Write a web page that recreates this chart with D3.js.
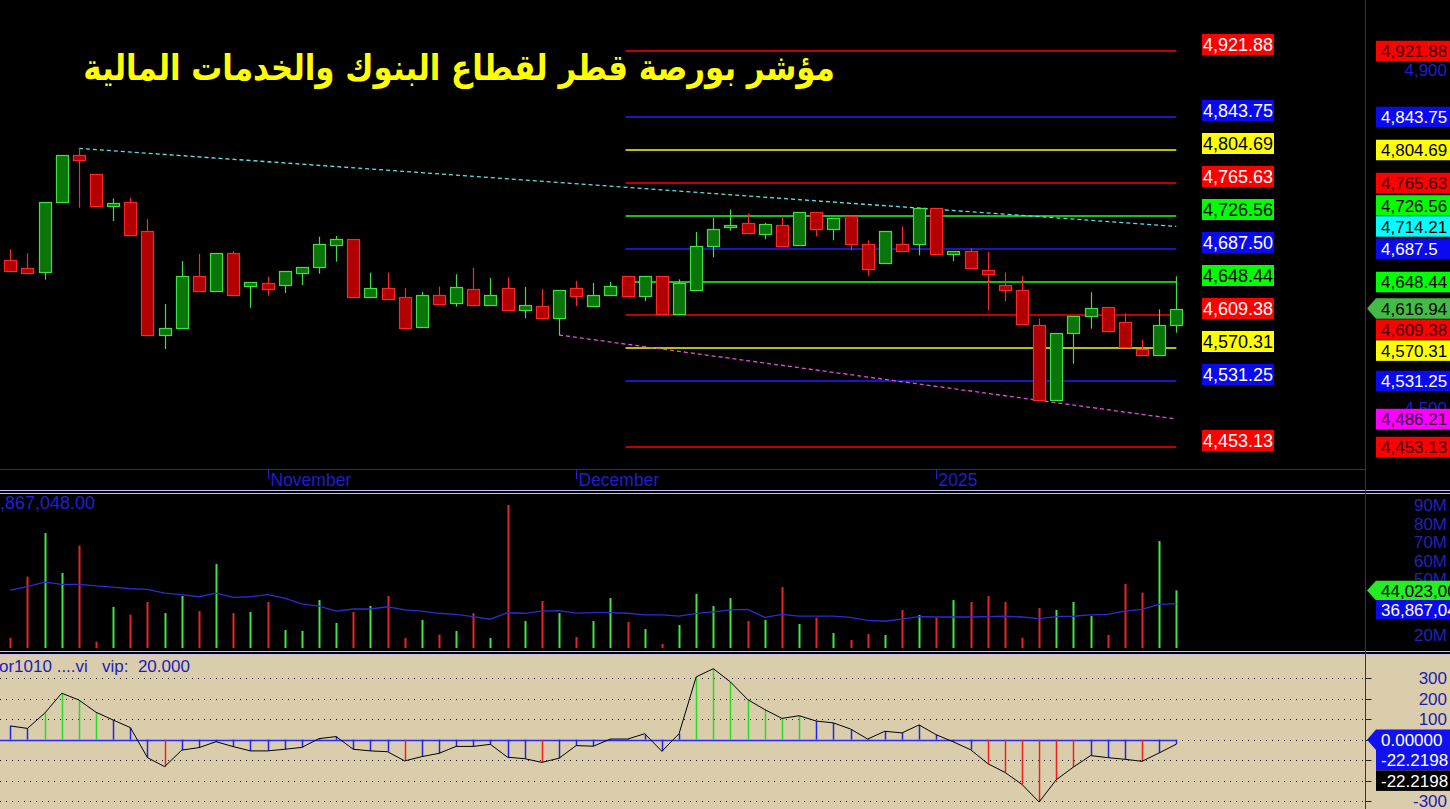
<!DOCTYPE html>
<html><head><meta charset="utf-8">
<script src="https://cdn.jsdelivr.net/npm/d3@7/dist/d3.min.js"></script>
<style>html,body{margin:0;padding:0;background:#000;overflow:hidden}svg{display:block}text{font-family:"Liberation Sans",Arial,sans-serif}</style>
</head><body>
<svg id="c" width="1450" height="809"></svg>
<script>
// ---------------- DATA ----------------
const titleText = "مؤشر بورصة قطر لقطاع البنوك والخدمات المالية";
const openV  = [4674.1,4665.0,4660.6,4742.8,4798.8,4776.3,4738.8,4743.1,4708.8,4585.4,4593.6,4655.6,4637.4,4682.8,4643.4,4646.9,4644.5,4658.7,4665.8,4691.9,4699.3,4630.3,4641.0,4630.7,4594.8,4632.7,4623.2,4639.8,4620.9,4641.0,4614.9,4619.7,4605.5,4641.0,4619.7,4632.7,4655.2,4631.5,4655.2,4610.9,4638.6,4690.7,4713.2,4717.9,4704.9,4715.6,4691.9,4731.0,4710.8,4726.2,4693.1,4670.6,4693.1,4693.1,4735.7,4681.2,4684.8,4662.3,4644.5,4638.6,4597.2,4508.4,4587.7,4607.8,4618.5,4600.7,4568.8,4561.7,4597.2];
const highV  = [4687.2,4682.4,4743.1,4798.8,4806.7,4776.3,4747.5,4748.2,4722.7,4622.4,4673.3,4681.9,4682.4,4685.1,4648.1,4654.7,4661.1,4666.2,4702.1,4702.9,4699.3,4659.5,4659.5,4641.3,4636.6,4642.9,4657.6,4665.4,4653.2,4654.0,4642.5,4640.2,4638.6,4649.6,4647.3,4648.4,4655.2,4655.2,4655.2,4651.6,4707.6,4724.6,4734.0,4729.3,4718.6,4725.7,4731.0,4731.0,4723.9,4726.2,4697.8,4708.5,4714.4,4735.7,4735.7,4684.8,4688.3,4684.0,4659.9,4655.2,4605.5,4587.7,4607.8,4636.3,4618.5,4611.4,4579.8,4616.1,4655.2];
const lowV   = [4660.6,4659.1,4651.2,4742.8,4736.4,4738.8,4720.7,4703.7,4586.1,4569.1,4593.6,4637.4,4637.4,4632.7,4618.0,4632.2,4635.4,4644.9,4658.3,4672.5,4630.3,4630.3,4628.0,4593.6,4594.8,4622.0,4619.2,4620.9,4620.9,4614.9,4605.5,4605.5,4585.7,4619.7,4619.7,4632.7,4631.5,4625.6,4610.9,4610.9,4638.6,4677.7,4709.2,4706.1,4699.0,4690.7,4691.9,4702.5,4697.8,4686.0,4655.9,4670.6,4684.8,4680.0,4681.2,4673.0,4664.7,4614.9,4625.6,4598.4,4508.4,4508.4,4551.7,4593.2,4590.1,4571.2,4561.7,4561.7,4588.4];
const closeV = [4661.8,4659.5,4743.1,4798.8,4793.2,4738.8,4742.0,4703.7,4586.1,4593.6,4655.6,4637.4,4682.4,4632.7,4648.1,4639.8,4661.1,4666.2,4693.4,4699.3,4630.3,4641.0,4628.0,4593.6,4632.7,4622.0,4642.2,4620.9,4632.7,4614.9,4620.9,4605.5,4638.6,4631.5,4632.7,4643.4,4631.5,4655.2,4610.9,4646.9,4690.7,4710.8,4715.6,4706.1,4716.7,4690.7,4731.0,4710.8,4723.9,4693.1,4663.5,4708.5,4684.8,4735.7,4681.2,4684.8,4664.7,4657.6,4638.6,4598.4,4508.4,4587.7,4607.8,4617.3,4590.1,4571.2,4561.7,4597.2,4616.94];
// volume in millions, and its moving average
const volumeM = [18.5,51.4,74.9,53.4,68.1,16.4,35.1,30.9,37.8,31.8,41.0,32.9,58.2,31.8,32.4,37.8,22.7,22.2,38.8,26.5,32.4,35.6,41.0,18.4,28.1,20.2,22.2,31.8,18.4,90.0,27.5,38.3,31.8,18.9,27.5,39.9,27.0,23.2,15.2,25.4,42.1,35.6,39.9,27.5,28.1,45.8,25.9,29.2,21.1,17.3,20.5,20.0,33.5,30.8,29.2,38.8,37.8,41.0,37.8,18.4,34.5,33.5,37.8,30.2,20.0,47.5,42.8,70.6,44.023];
const volumeMaM = [44.2,46.0,48.5,47.3,47.3,46.4,45.8,44.9,44.6,42.5,41.7,40.6,42.5,40.3,40.6,41.7,39.9,36.7,35.6,32.9,34.0,34.0,35.2,33.5,32.9,31.7,31.1,29.9,28.5,32.0,31.7,32.9,33.1,31.8,32.0,32.0,31.7,30.8,30.8,30.2,31.7,32.5,33.5,33.8,29.5,31.1,30.2,30.2,30.2,29.5,27.9,27.4,28.5,29.9,29.7,29.7,29.7,29.9,30.1,29.7,28.8,29.9,30.1,30.8,31.1,32.9,33.8,36.5,36.867048];
const oscV = [67,55,129,227,194,134,96,59,-88,-132,-51,-39,-10,-34,-55,-55,-47,-38,5,15,-47,-55,-59,-104,-83,-67,-33,-33,-23,-86,-93,-111,-91,-29,-32,3,3,29,-57,29,307,347,282,196,147,104,117,91,82,52,3,41,33,72,24,-11,-49,-117,-160,-219,-305,-196,-134,-78,-88,-96,-106,-65,-22.2198];
// month markers (candle index, label)
const monthIdx = [15, 33, 54];
const monthLabels = ["November", "December", "2025"];
// Fibonacci-style levels
const levelValues = [4921.88,4843.75,4804.69,4765.63,4726.56,4687.50,4648.44,4609.38,4570.31,4531.25,4453.13];
const levelKinds  = ["red","blue","yellow","red","green","blue","green","red","yellow","blue","red"];
const levelStartIdx = 36;
// trend lines [startIdx, startVal, endIdx, endVal]
const trendUpper = [4, 4806.7, 68, 4714.21];
const trendLower = [32, 4585.7, 68, 4486.21];
const priceTicks = [4500, 4600, 4700, 4800, 4900];
const volTicksM = [20, 30, 40, 50, 60, 70, 80, 90];
const oscTicks = [-300, -200, -100, 0, 100, 200, 300];
const oscLabel = "or1010 ....vi   vip:  20.000";

// ---------------- STYLE ----------------
const lineCol = {red:"#ff0000", blue:"#2020ff", yellow:"#ffff00", green:"#22ff22"};
const boxCol  = {red:"#ff0000", blue:"#0a0af0", yellow:"#ffff00", green:"#00ff00", cyan:"#00ffff", magenta:"#ff00ff"};
const txtLeft = {red:"#ffffff", blue:"#ffffff", yellow:"#000000", green:"#000000"};
const txtRight= {red:"#3a0000", blue:"#ffffff", yellow:"#000000", green:"#000000", cyan:"#000000", magenta:"#300030"};
const axisBlue = "#1e1ed0";

const W = 1450, H = 809, AX = 1365.5;
const svg = d3.select("#c");
svg.append("rect").attr("width", W).attr("height", H).attr("fill", "#000");
svg.append("rect").attr("x", 0).attr("y", 655).attr("width", W).attr("height", H - 655).attr("fill", "#dacdab");

const n = closeV.length;
const x = d3.scaleLinear().domain([0, n - 1]).range([10.3, 1176.3]);
const y = d3.scaleLinear().domain([4453.13, 4921.88]).range([447, 51]);
const yV = d3.scaleLinear().domain([20, 90]).range([635, 505]);
const yO = d3.scaleLinear().domain([-300, 300]).range([801, 678.3]);
const px = v => Math.round(v) + 0.5;

// ---------------- TITLE ----------------
const tg = svg.append("g");
const tt = tg.append("text").attr("x", 0).attr("y", 0).attr("text-anchor", "middle")
  .attr("direction", "rtl").attr("fill", "#ffff00")
  .style("font-family", "'DejaVu Sans', sans-serif").attr("font-weight", "bold")
  .attr("font-size", 36).text(titleText);
const tl = tt.node().getComputedTextLength() || 752;
tg.attr("transform", `translate(459,80) scale(${752 / tl},1)`);

// ---------------- MAIN PANE ----------------
const lv = svg.append("g");
levelValues.forEach((v, i) => {
  lv.append("line").attr("x1", x(levelStartIdx) - 2).attr("x2", x(n - 1))
    .attr("y1", Math.round(y(v))).attr("y2", Math.round(y(v)))
    .attr("stroke", lineCol[levelKinds[i]]).attr("stroke-width", 1.4);
});
function trend(t, col) {
  svg.append("line").attr("x1", x(t[0])).attr("y1", y(t[1])).attr("x2", x(t[2])).attr("y2", y(t[3]))
    .attr("stroke", col).attr("stroke-width", 1.3).attr("stroke-dasharray", "4,3");
}
trend(trendUpper, "#60e0e0");
trend(trendLower, "#e050e0");

const cg = svg.append("g");
closeV.forEach((c, i) => {
  const o = openV[i], up = c >= o;
  const st = up ? "#3fe03f" : "#ff2626";
  const fi = up ? "#0a760a" : "#b00000";
  const cx = px(x(i));
  cg.append("line").attr("x1", cx).attr("x2", cx).attr("y1", y(highV[i])).attr("y2", y(lowV[i]))
    .attr("stroke", st).attr("stroke-width", 1.2);
  const top = Math.round(y(Math.max(o, c))) + 0.5, bot = Math.round(y(Math.min(o, c))) + 0.5;
  cg.append("rect").attr("x", Math.round(x(i)) - 5.5).attr("y", top).attr("width", 12)
    .attr("height", Math.max(bot - top, 1.5)).attr("fill", fi).attr("stroke", st).attr("stroke-width", 1.2);
});

// left-side level labels
const fmt2 = d3.format(",.2f");
levelValues.forEach((v, i) => {
  const yc = y(v) - 6.5, k = levelKinds[i];
  svg.append("rect").attr("x", 1202).attr("y", yc - 10.5).attr("width", 72).attr("height", 21).attr("fill", boxCol[k]);
  svg.append("text").attr("x", 1203).attr("y", yc).attr("dy", "0.36em").attr("font-size", 18)
    .attr("fill", txtLeft[k]).text(fmt2(v));
});

// x axis
svg.append("line").attr("x1", 0).attr("x2", AX).attr("y1", 469.5).attr("y2", 469.5).attr("stroke", "#2222c8");
monthIdx.forEach((mi, j) => {
  const xx = px(x(mi));
  svg.append("line").attr("x1", xx).attr("x2", xx).attr("y1", 469).attr("y2", 479).attr("stroke", "#2222c8");
  svg.append("text").attr("x", xx + 2).attr("y", 486).attr("font-size", 17.5).attr("fill", axisBlue).text(monthLabels[j]);
});

// separators
[490.5, 493.5, 651.5, 654.5].forEach(yy => {
  svg.append("line").attr("x1", 0).attr("x2", W).attr("y1", yy).attr("y2", yy).attr("stroke", "#c4c4f2").attr("stroke-width", 1.2);
});

// ---------------- VOLUME PANE ----------------
const vg = svg.append("g");
volumeM.forEach((v, i) => {
  const up = closeV[i] >= openV[i];
  vg.append("rect").attr("x", Math.round(x(i)) - 0.5).attr("y", yV(v)).attr("width", 2)
    .attr("height", 648 - yV(v)).attr("fill", up ? "#3ee83e" : "#ee2424");
});
vg.append("path").datum(volumeMaM)
  .attr("d", d3.line().x((d, i) => x(i)).y(d => yV(d)))
  .attr("fill", "none").attr("stroke", "#2c2cd4").attr("stroke-width", 1.3);
const fmtVol = v => d3.format(",.2f")(Math.round(v * 1e6));
svg.append("text").attr("x", 95).attr("y", 509).attr("text-anchor", "end").attr("font-size", 18)
  .attr("fill", "#2020d0").text(fmtVol(volumeMaM[n - 1]));

// ---------------- OSCILLATOR PANE ----------------
const og = svg.append("g");
oscTicks.forEach(t => {
  og.append("line").attr("x1", 0).attr("x2", AX).attr("y1", px(yO(t))).attr("y2", px(yO(t)))
    .attr("stroke", "#1a1a1a").attr("stroke-width", 1).attr("stroke-dasharray", "1,5");
  og.append("line").attr("x1", AX).attr("x2", AX + 6).attr("y1", px(yO(t))).attr("y2", px(yO(t))).attr("stroke", "#222");
});
og.append("line").attr("x1", 0).attr("x2", x(n - 1)).attr("y1", px(yO(0))).attr("y2", px(yO(0)))
  .attr("stroke", "#2a2af0").attr("stroke-width", 1.5);
oscV.forEach((v, i) => {
  const col = v > 100 ? "#22dd22" : (v < -100 ? "#ee2020" : "#2222ee");
  og.append("line").attr("x1", px(x(i))).attr("x2", px(x(i))).attr("y1", yO(0)).attr("y2", yO(v))
    .attr("stroke", col).attr("stroke-width", 1.5);
});
og.append("path").datum(oscV).attr("d", d3.line().x((d, i) => x(i)).y(d => yO(d)))
  .attr("fill", "none").attr("stroke", "#000").attr("stroke-width", 1);
svg.append("text").attr("x", -1).attr("y", 672).attr("font-size", 17).attr("fill", "#1c1cc0")
  .style("white-space", "pre").attr("xml:space", "preserve").text(oscLabel);

// ---------------- RIGHT AXIS ----------------
svg.append("line").attr("x1", AX).attr("x2", AX).attr("y1", 0).attr("y2", H).attr("stroke", "#2424c8");

function placeLabels(items, h) {
  const placed = items.filter(d => d.fixed).map(d => (d.yc = d.y0, d));
  items.filter(d => !d.fixed).sort((a, b) => a.y0 - b.y0).forEach(d => {
    d.yc = d.y0;
    for (let k = 0; k < 10; k++) {
      const hit = placed.find(p => Math.abs(p.yc - d.yc) < h - 0.5);
      if (!hit) break;
      d.yc = d.y0 < hit.y0 ? hit.yc - h : hit.yc + h;
    }
    placed.push(d);
  });
  return items;
}
function drawBox(d, h, fs) {
  const x0 = 1376, top = d.yc - h / 2;
  if (d.arrow) {
    svg.append("path").attr("d", `M${x0 - 9},${d.yc} L${x0},${top} L${W},${top} L${W},${top + h} L${x0},${top + h} Z`).attr("fill", d.bg);
  } else {
    svg.append("rect").attr("x", x0).attr("y", top).attr("width", W - x0).attr("height", h).attr("fill", d.bg);
  }
  svg.append("text").attr("x", x0 + 5).attr("y", d.yc).attr("dy", "0.36em").attr("font-size", fs).attr("fill", d.fg).text(d.t);
}
function tickLabels(vals, scale, fmt, boxes, col) {
  vals.forEach(v => {
    const yy = scale(v);
    const near = boxes.filter(b => Math.abs(b.yc - yy) < 21);
    if (near.some(b => Math.abs(b.yc - yy) < 10)) return;
    if (near.some(b => b.yc < yy) && near.some(b => b.yc > yy)) return;
    svg.append("text").attr("x", 1447).attr("y", yy).attr("dy", "0.36em").attr("text-anchor", "end")
      .attr("font-size", 17).attr("fill", col).text(fmt(v));
  });
}

// price labels
const fmtR = d3.format(",.2~f");
const lastClose = closeV[n - 1];
const priceItems = levelValues.map((v, i) => ({y0: y(v), t: fmtR(v), bg: boxCol[levelKinds[i]], fg: txtRight[levelKinds[i]]}));
priceItems.push({y0: y(trendUpper[3]), t: fmtR(trendUpper[3]), bg: boxCol.cyan, fg: txtRight.cyan, fixed: true});
priceItems.push({y0: y(trendLower[3]), t: fmtR(trendLower[3]), bg: boxCol.magenta, fg: txtRight.magenta, fixed: true});
priceItems.push({y0: y(lastClose), t: fmtR(lastClose), bg: "#44bb44", fg: "#000", fixed: true, arrow: true});
placeLabels(priceItems, 21);
tickLabels(priceTicks, y, d3.format(","), priceItems, axisBlue);
priceItems.forEach(d => drawBox(d, 20.5, 17));

// volume labels
const volItems = [
  {y0: yV(volumeM[n - 1]), t: fmtVol(volumeM[n - 1]), bg: "#22ee22", fg: "#000", fixed: true, arrow: true},
  {y0: yV(volumeMaM[n - 1]), t: fmtVol(volumeMaM[n - 1]), bg: "#0a0af0", fg: "#fff"}
];
placeLabels(volItems, 19.5);
tickLabels(volTicksM, yV, v => v + "M", volItems, "#2222b8");
volItems.forEach(d => drawBox(d, 19.5, 17));

// oscillator labels
const lastOsc = oscV[n - 1];
const oscItems = [
  {y0: yO(0), t: (0).toFixed(5), bg: "#1010f0", fg: "#fff", fixed: true, arrow: true},
  {y0: yO(lastOsc), t: lastOsc.toFixed(4), bg: "#1010f0", fg: "#fff"},
  {y0: yO(lastOsc), t: lastOsc.toFixed(4), bg: "#000", fg: "#fff"}
];
placeLabels(oscItems, 20.5);
tickLabels(oscTicks, yO, v => String(v), oscItems, "#1c1cb0");
oscItems.forEach(d => drawBox(d, 20.5, 17));
</script>
</body></html>
